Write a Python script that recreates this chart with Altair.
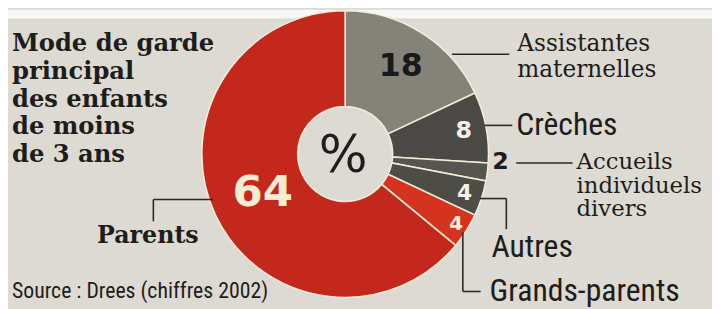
import altair as alt
import pandas as pd

# --- data ---
categories = ["Assistantes maternelles", "Crèches", "Accueils individuels divers",
              "Autres", "Grands-parents", "Parents"]
values = [18, 8, 2, 4, 4, 64]
inside_labels = ["18", "8", "", "4", "4", "64"]

# --- styles / positions (kept separate from data) ---
slice_colors = ["#858279", "#4b4945", "#57554f", "#4e4c47", "#d3331f", "#c4281c"]
label_radii = [105, 122, 0, 127, 133, 92]
label_colors = ["#1a1a1a", "#f4f1e6", "#f4f1e6", "#f4f1e6", "#f6efdc", "#f6ecd2"]
label_sizes = [32, 24, 1, 22, 20, 44]

W, H = 712, 301
CX, CY = 341, 146
BG = "#dcdad2"

pie = pd.DataFrame({
    "cat": categories, "val": values, "order": list(range(len(values))),
    "lab": inside_labels, "r": label_radii, "col": slice_colors,
    "lcol": label_colors, "lsize": label_sizes,
})

arcs = alt.Chart(pie).mark_arc(
    innerRadius=48, outerRadius=145, stroke="#f1ecd8", strokeWidth=1.6
).encode(
    theta=alt.Theta("val:Q", stack=True),
    order=alt.Order("order:Q"),
    color=alt.Color("col:N", scale=None, legend=None),
    x=alt.value(CX), y=alt.value(CY),
)

slice_text = alt.Chart(pie).transform_window(
    cum="sum(val)", sort=[alt.SortField("order")], frame=[None, 0]
).transform_calculate(
    mid="datum.cum - datum.val / 2"
).mark_text(
    font="DejaVu Sans", fontWeight="bold", baseline="middle", align="center"
).encode(
    theta=alt.Theta("mid:Q", stack=None,
                    scale=alt.Scale(domain=[0, 100], range=[0, 6.283185307])),
    radius=alt.Radius("r:Q", scale=None),
    text="lab:N",
    color=alt.Color("lcol:N", scale=None, legend=None),
    size=alt.Size("lsize:Q", scale=None, legend=None),
    x=alt.value(CX), y=alt.value(CY),
)

hole_text = alt.Chart(pd.DataFrame({"t": ["%"]})).mark_text(
    font="DejaVu Sans", fontSize=52, color="#1e1e1e", baseline="middle", align="center"
).encode(text="t:N", x=alt.value(CX - 2), y=alt.value(CY + 2))

# top white strip
strip = alt.Chart(pd.DataFrame({"a": [0]})).mark_rect(color="#f7f7f5").encode(
    x=alt.value(0), x2=alt.value(W), y=alt.value(0), y2=alt.value(9)
)

# annotation texts
def text_layer(texts, xs, ys, font, size, weight="normal", color="#1f1d1a", align="left"):
    df = pd.DataFrame({"t": texts, "x": xs, "y": ys})
    return alt.Chart(df).mark_text(
        font=font, fontSize=size, fontWeight=weight, color=color,
        align=align, baseline="middle"
    ).encode(
        x=alt.X("x:Q", scale=None), y=alt.Y("y:Q", scale=None), text="t:N"
    )

title_lines = ["Mode de garde", "principal", "des enfants", "de moins", "de 3 ans"]
title_x = [4] * 5
title_y = [35, 63, 91, 119, 147]

serif_texts = ["Assistantes", "maternelles", "Accueils", "individuels", "divers"]
serif_x = [515, 515, 575, 575, 575]
serif_y = [35, 61, 154, 178, 202]

sans_texts = ["Crèches", "Autres", "Grands-parents"]
sans_x = [514, 489, 487]
sans_y = [117, 240, 285]

narrow = "Liberation Sans Narrow, Roboto Condensed, Arial Narrow, Roboto"

layers = [
    strip, arcs, slice_text, hole_text,
    text_layer(title_lines, title_x, title_y, "DejaVu Serif", 24.5, "bold"),
    text_layer(["Parents"], [90], [229], "DejaVu Serif", 24, "bold"),
    text_layer(serif_texts[:2], serif_x[:2], serif_y[:2], "DejaVu Serif", 23.5),
    text_layer(serif_texts[2:], serif_x[2:], serif_y[2:], "DejaVu Serif", 23),
    text_layer(sans_texts, sans_x, sans_y, narrow, 32),
    text_layer(["Source : Drees (chiffres 2002)"], [4], [285], narrow, 22),
    text_layer(["2"], [498], [154], "DejaVu Sans", 24, "bold", align="center"),
]

# leader lines
seg_x = [449, 482, 514, 477, 504, 460, 460, 147, 147]
seg_y = [45, 117, 155, 191, 191, 225, 285, 192, 192]
seg_x2 = [507, 510, 571, 504, 504, 460, 478, 207, 147]
seg_y2 = [45, 117, 155, 191, 222, 285, 285, 192, 214]
segs = pd.DataFrame({"x": seg_x, "y": seg_y, "x2": seg_x2, "y2": seg_y2})
rules = alt.Chart(segs).mark_rule(color="#2a2926", strokeWidth=1.6).encode(
    x=alt.X("x:Q", scale=None), y=alt.Y("y:Q", scale=None),
    x2="x2:Q", y2="y2:Q",
)
layers.append(rules)

chart = alt.layer(*layers).properties(
    width=W, height=H, padding=0,
    autosize=alt.AutoSizeParams(type="none"),
    background=BG,
).configure_view(stroke=None)

chart.save("out.html", embed_options={"renderer": "svg", "actions": False})
